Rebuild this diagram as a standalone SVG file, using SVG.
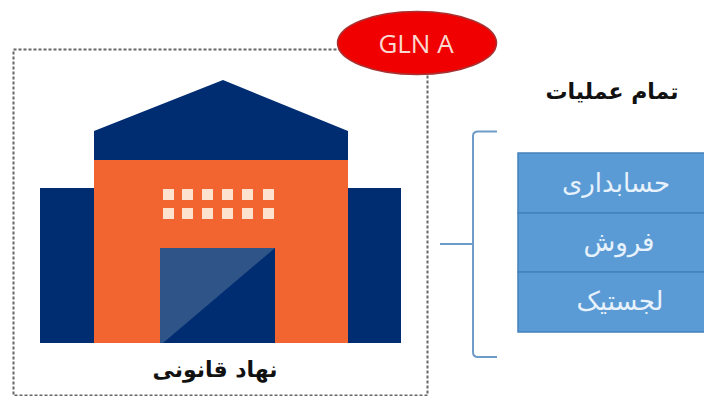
<svg xmlns="http://www.w3.org/2000/svg" width="704" height="396" viewBox="0 0 704 396">
<style>
.navy{fill:#002d72}
.win{fill:#fde3cf}
.ar{font-family:"DejaVu Sans",sans-serif;text-anchor:middle;direction:rtl}
.blk{font-weight:bold;font-size:22px;fill:#111}
.wht{font-size:26px;fill:#e8f2fc}
.row{fill:#5b9bd5;stroke:#4381bb;stroke-width:1.500}
</style>
<rect width="704" height="396" fill="#fff"/>
<g id="legal-entity-frame"><rect x="13.500" y="49.500" width="414" height="346" fill="none" stroke="#666" stroke-width="2" stroke-dasharray="3 2"/></g>
<g id="building">
<rect class="navy" x="40" y="188" width="361" height="155"/>
<rect x="94" y="160" width="254" height="183" fill="#f26530"/>
<polygon class="navy" points="94,131 223,80 348,131 348,160 94,160"/>
<g class="win">
<rect x="163" y="189" width="11" height="11"/><rect x="182" y="189" width="11" height="11"/><rect x="202" y="189" width="11" height="11"/><rect x="222" y="189" width="11" height="11"/><rect x="242" y="189" width="11" height="11"/><rect x="263" y="189" width="11" height="11"/>
<rect x="163" y="208" width="11" height="11"/><rect x="182" y="208" width="11" height="11"/><rect x="202" y="208" width="11" height="11"/><rect x="222" y="208" width="11" height="11"/><rect x="242" y="208" width="11" height="11"/><rect x="263" y="208" width="11" height="11"/>
</g>
<rect class="navy" x="160" y="248" width="115" height="95"/>
<polygon points="160,248 275,248 163,343 160,343" fill="#2f5588"/>
</g>
<g id="legal-entity-label"><text class="ar blk" x="215" y="377">نهاد قانونی</text></g>
<g id="gln-a"><ellipse cx="417" cy="43" rx="79.500" ry="31.500" fill="#f00000" stroke="#a83232" stroke-width="1.500"/>
<text x="416" y="53" font-family="Open Sans,Liberation Sans,sans-serif" font-size="26" fill="#fbd9d0" text-anchor="middle">GLN A</text></g>
<g id="all-ops-label"><text class="ar blk" x="612" y="99">تمام عملیات</text></g>
<g id="connectors"><path d="M497 131.500H478Q473 131.500 473 136V352Q473 357 478 357H497M440 244H473" fill="none" stroke="#6f9bc8" stroke-width="2"/></g>
<g id="accounting"><rect class="row" x="518" y="153" width="187" height="60"/><text class="ar wht" x="616" y="192">حسابداری</text></g>
<g id="sales"><rect class="row" x="518" y="213" width="187" height="59"/><text class="ar wht" x="619" y="251">فروش</text></g>
<g id="logistics"><rect class="row" x="518" y="272" width="187" height="60"/><text class="ar wht" x="620" y="310">لجستیک</text></g>
</svg>
